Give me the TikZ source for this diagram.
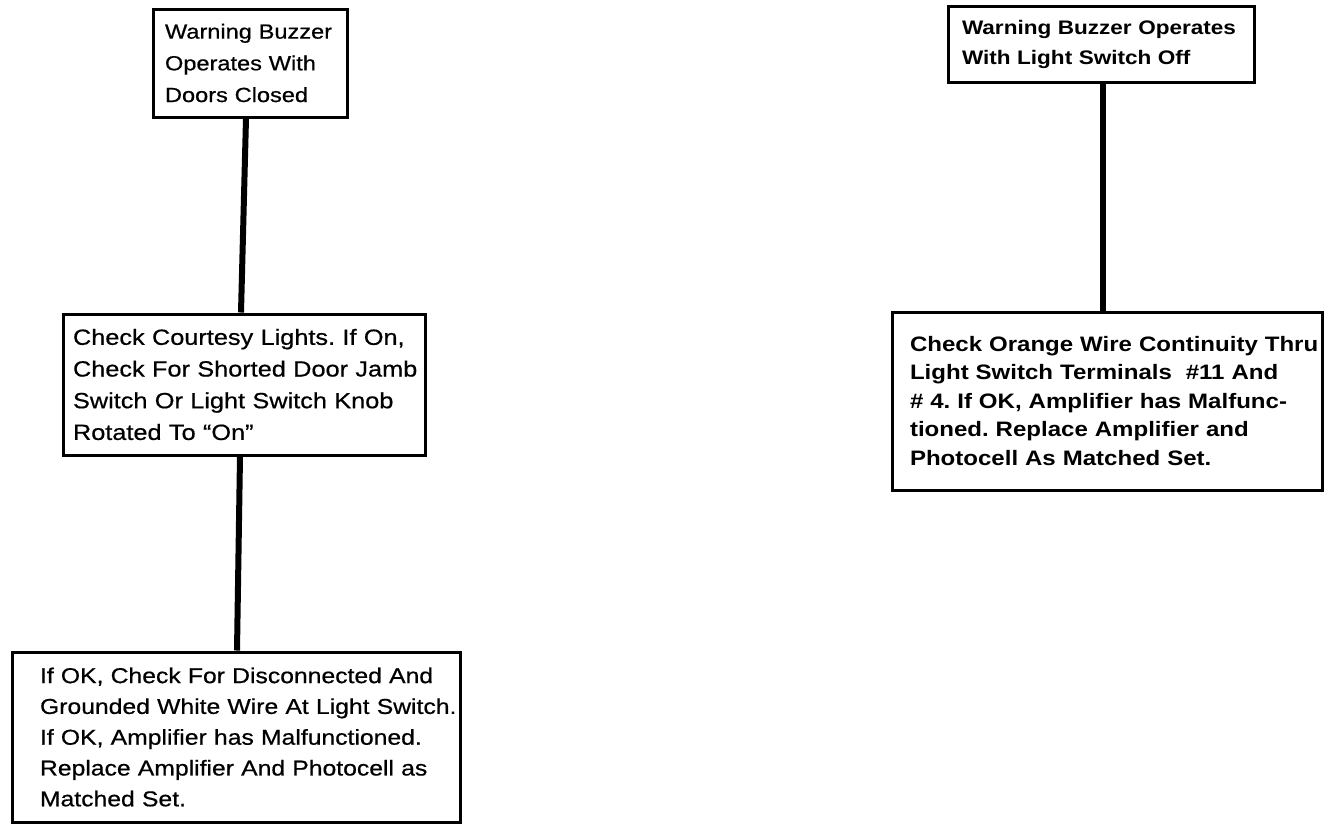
\documentclass[tikz,border=0pt]{standalone}
\usepackage{fontspec}
\newfontfamily\boxfont[FakeStretch=1.15]{Liberation Sans}
\newfontfamily\boxfontmed[FakeStretch=1.15,FakeBold=0.6]{Liberation Sans}
\newcommand\oneline[1]{\mbox{#1}}
\tikzset{
  x=1pt, y=-1pt,
  tbox/.style={draw=black, line width=3pt, rectangle, align=left, inner ysep=0pt, text=black},
  conn/.style={draw=black, line width=6pt},
}
\frenchspacing
\begin{document}
\frenchspacing
\begin{tikzpicture}
\useasboundingbox[fill=white] (0,0) rectangle (1324,825);

\node[tbox, minimum width=194pt, minimum height=108pt, inner xsep=12pt, text width=170pt,
      font=\boxfontmed\fontsize{20.5}{31.7}\selectfont] (b1) at (250,63)
  {\oneline{Warning Buzzer}\\ \oneline{Operates With}\\ \oneline{Doors Closed}};

\node[tbox, minimum width=362pt, minimum height=141pt, inner xsep=10pt, text width=342pt,
      font=\boxfontmed\fontsize{22}{31.7}\selectfont] (b2) at (244,384.5)
  {\oneline{Check Courtesy Lights. If On,}\\ \oneline{Check For Shorted Door Jamb}\\
   \oneline{Switch Or Light Switch Knob}\\ \oneline{Rotated To “On”}};

\node[tbox, minimum width=448pt, minimum height=170pt, inner xsep=28pt, text width=392pt,
      font=\boxfontmed\fontsize{21.5}{30.8}\selectfont] (b3) at (236,737)
  {\oneline{If OK, Check For Disconnected And}\\ \oneline{Grounded White Wire At Light Switch.}\\
   \oneline{If OK, Amplifier has Malfunctioned.}\\ \oneline{Replace Amplifier And Photocell as}\\
   \oneline{Matched Set.}};

\node[tbox, minimum width=306pt, minimum height=76pt, inner xsep=14pt, text width=278pt,
      font=\boxfont\bfseries\fontsize{19.6}{30}\selectfont] (b4) at (1101,44)
  {\oneline{Warning Buzzer Operates}\\ \oneline{With Light Switch Off}};

\node[tbox, minimum width=430pt, minimum height=178pt, inner xsep=18pt, text width=394pt,
      font=\boxfont\bfseries\fontsize{20.9}{28.5}\selectfont] (b5) at (1107,401)
  {\oneline{Check Orange Wire Continuity Thru}\\ \oneline{Light Switch Terminals\ \ \#11 And}\\
   \oneline{\# 4. If OK, Amplifier has Malfunc-}\\ \oneline{tioned. Replace Amplifier and}\\
   \oneline{Photocell As Matched Set.}};

\draw[conn] ([xshift=-4pt]b1.south) -- ([xshift=-3pt]b2.north);
\draw[conn] ([xshift=-4pt]b2.south) -- ([xshift=1pt]b3.north);
\draw[conn] ([xshift=2pt]b4.south) -- ([xshift=-4pt]b5.north);
\end{tikzpicture}
\end{document}
